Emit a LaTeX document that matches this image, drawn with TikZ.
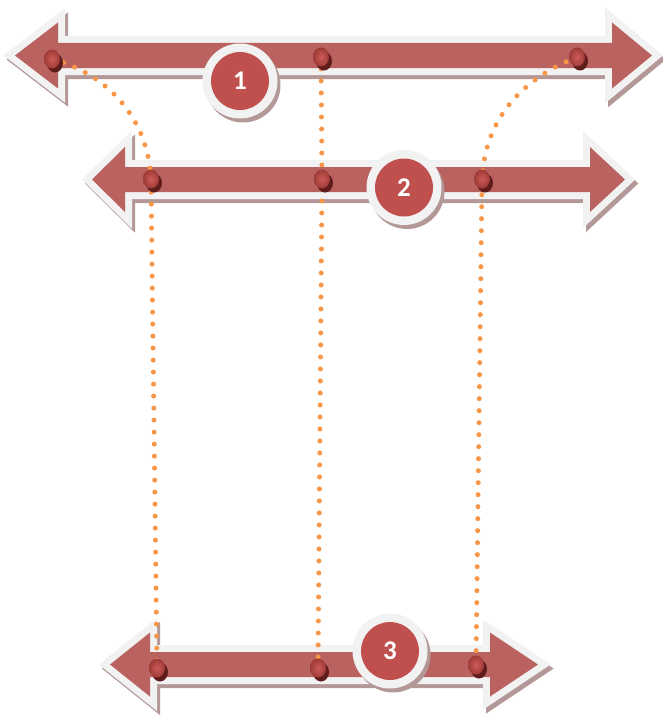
\documentclass[tikz,border=0pt]{standalone}
\usepackage{fontspec}
\setmainfont{Carlito}
\usetikzlibrary{shapes.geometric,shadows}

\definecolor{arrowred}{HTML}{B9625F}
\definecolor{circred}{HTML}{C0504D}
\definecolor{rimwhite}{HTML}{F2F2F2}
\definecolor{shadowcol}{HTML}{B49898}
\definecolor{beadlight}{HTML}{CE5C58}
\definecolor{beaddark}{HTML}{9E3A37}
\definecolor{beadshadow}{HTML}{5E1C1A}
\definecolor{dotorange}{HTML}{F79646}

% Double-headed block arrow: opts, left tip x, right tip x, centre y,
% left head length, right head length, head half-height, shaft half-height
\newcommand\dblarrowpath[8]{%
  \path[#1] (#2,#4) -- ({#2+#5},{#4-#7}) -- ({#2+#5},{#4-#8})
    -- ({#3-#6},{#4-#8}) -- ({#3-#6},{#4-#7}) -- (#3,#4)
    -- ({#3-#6},{#4+#7}) -- ({#3-#6},{#4+#8}) -- ({#2+#5},{#4+#8})
    -- ({#2+#5},{#4+#7}) -- cycle;}
\newcommand\dblarrow[7]{%
  \dblarrowpath{arrowshadow}{#1}{#2}{#3}{#4}{#5}{#6}{#7}%
  \dblarrowpath{arrowrim}{#1}{#2}{#3}{#4}{#5}{#6}{#7}%
  \dblarrowpath{arrowbody}{#1}{#2}{#3}{#4}{#5}{#6}{#7}}

\tikzset{
  arrowshadow/.style={fill=shadowcol, draw=shadowcol, line width=14pt,
    line join=miter, shift={(3,4)}},
  arrowrim/.style={draw=rimwhite, line width=14pt, line join=miter},
  arrowbody/.style={fill=arrowred},
  numdisc/.style={circle, minimum size=75pt, inner sep=0pt, fill=rimwhite,
    drop shadow={shadow xshift=3pt, shadow yshift=-4pt, fill=shadowcol, opacity=1},
    path picture={\fill[circred] (path picture bounding box.center) circle (29pt);},
    text=white, font=\fontsize{27}{27}\selectfont\bfseries},
  bead/.style={ellipse, minimum width=16pt, minimum height=19pt, inner sep=0pt,
    inner color=beadlight, outer color=beaddark,
    drop shadow={shadow xshift=3pt, shadow yshift=-4pt, fill=beadshadow, opacity=1}},
  dotline/.style={draw=dotorange, line width=5pt, line cap=round,
    dash pattern=on 0pt off 12pt}
}

\begin{document}
\begin{tikzpicture}[x=1pt, y=-1pt]
\useasboundingbox (0,0) rectangle (663,717);

% the three block arrows
\dblarrow{15}{652}{55.5}{43}{40}{33}{12.5}
\dblarrow{92}{625}{179.5}{33}{35}{32.5}{12.5}
\dblarrow{110}{538}{664.5}{40}{48}{32}{12.5}

% bead positions
\coordinate (a1) at (52,59);
\coordinate (a2) at (321,57);
\coordinate (a3) at (577,57);
\coordinate (b1) at (151,179);
\coordinate (b2) at (322,179);
\coordinate (b3) at (482,179);
\coordinate (c1) at (157,668);
\coordinate (c2) at (318,668);
\coordinate (c3) at (476,665);

% dotted guide lines
\draw[dotline] (a1) .. controls (110,75) and (148,120) .. (b1) -- (c1);
\draw[dotline] (a2) -- (b2) -- (c2);
\draw[dotline] (a3) .. controls (520,80) and (485,120) .. (b3) -- (c3);

% numbered discs
\node[numdisc] (n1) at (240,81) {1};
\node[numdisc] (n2) at (404,187.5) {2};
\node[numdisc] (n3) at (390,651) {3};

% beads
\foreach \p in {a1,a2,a3,b1,b2,b3,c1,c2,c3}
  \node[bead] (bead-\p) at (\p) {};
\end{tikzpicture}
\end{document}
